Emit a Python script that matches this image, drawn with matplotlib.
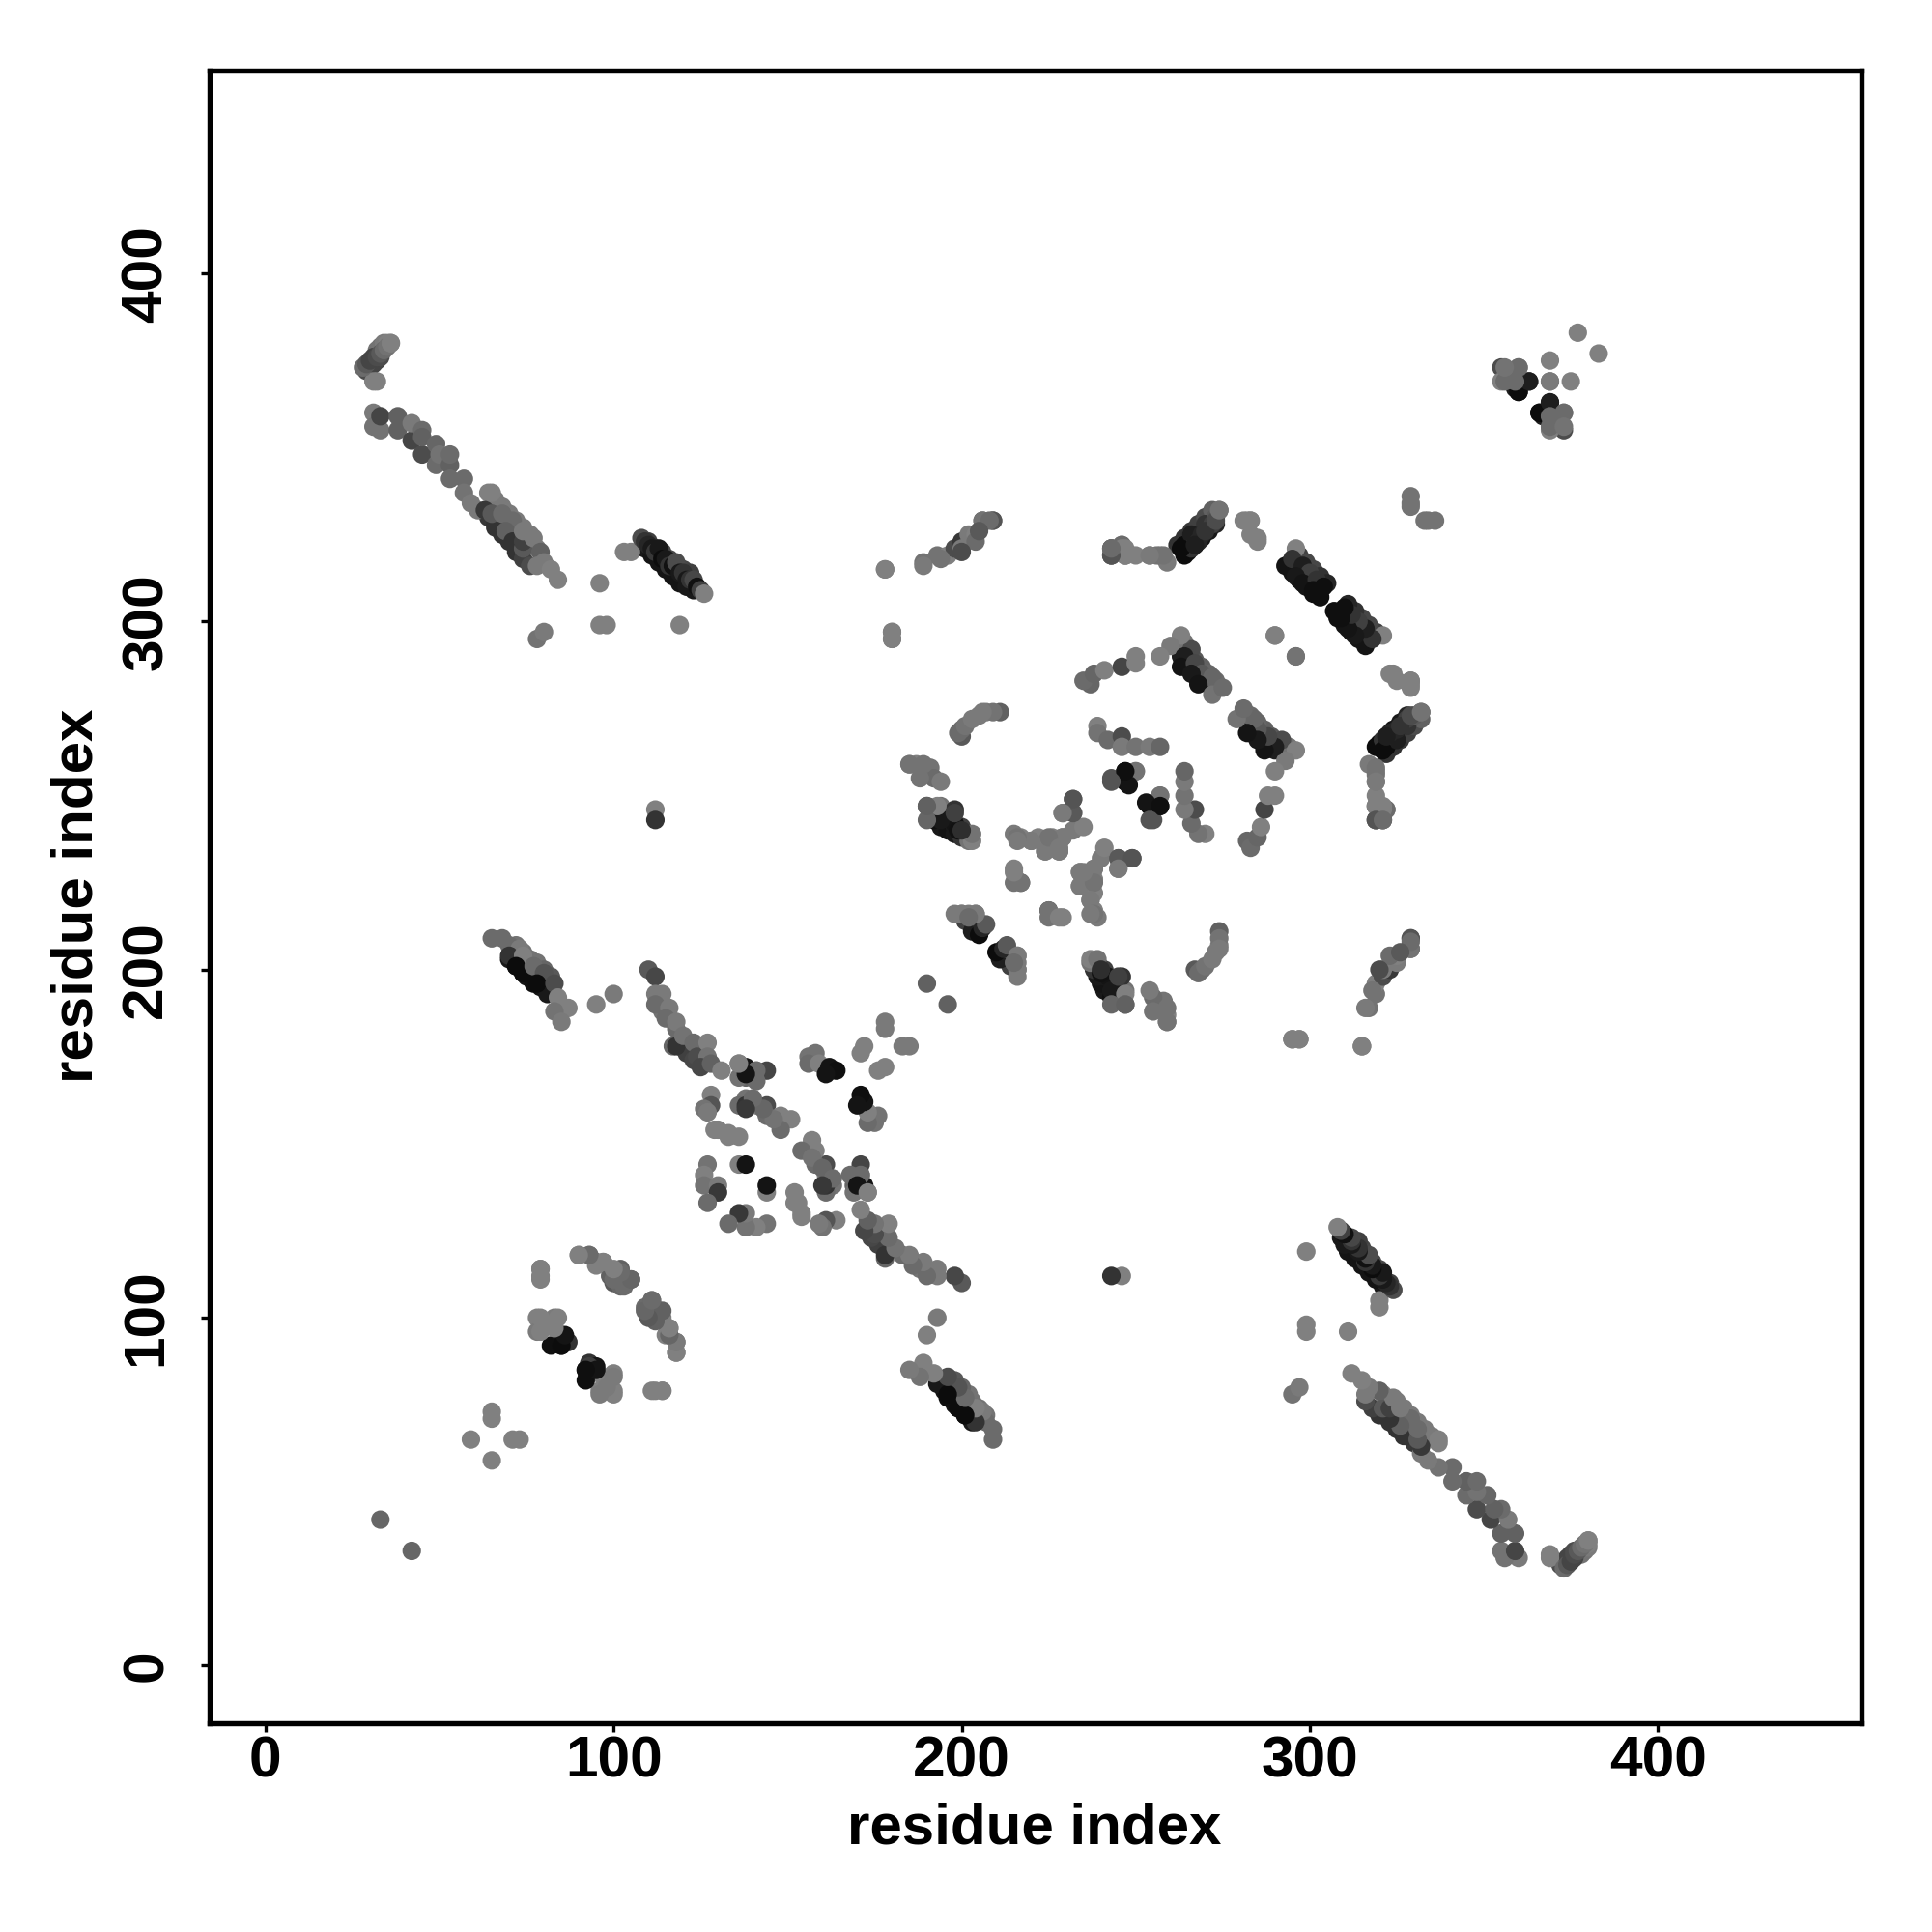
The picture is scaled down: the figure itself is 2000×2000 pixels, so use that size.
import matplotlib
matplotlib.use("Agg")
import matplotlib.pyplot as plt

plt.rcParams['font.family'] = ['Liberation Sans', 'DejaVu Sans']

tick_values = [0, 100, 200, 300, 400]
axis_label = "residue index"

# Contacts (i < j); the map is symmetric. Third list = gray level of the point.
ex_a_i = [29, 30, 31, 32, 33, 32, 33, 34, 35]
ex_a_j = [372, 373, 374, 375, 376, 378, 379, 380, 380]
ex_a_g = [.3, .3, .27, .27, .3, .45, .45, .48, .5]

ex_b_i = [64, 66, 68, 70, 72, 74, 76, 66, 68, 70, 72, 74, 76, 78]
ex_b_j = [330, 327, 325, 323, 320, 318, 316, 335, 333, 331, 329, 327, 325, 321]
ex_b_g = [.22, .2, .2, .2, .2, .25, .3, .48, .48, .48, .48, .48, .48, .48]

ex_d_i = [109, 111, 113, 115, 117, 119, 121, 123, 110, 112, 114, 116, 118, 120, 122]
ex_d_j = [321, 319, 317, 315, 313, 311, 310, 309, 323, 321, 320, 318, 316, 315, 314]
ex_d_g = [.1, .08, .08, .08, .08, .08, .1, .1, .25, .25, .28, .28, .3, .28, .25]

ex_f_i = [70, 72, 74, 75, 77, 79, 81, 72, 74, 76, 78, 80, 82]
ex_f_j = [203, 201, 199, 198, 196, 195, 193, 207, 205, 203, 202, 200, 198]
ex_f_g = [.1, .08, .08, .08, .06, .08, .1, .45, .45, .45, .45, .4, .35]

ex_q_i = [293, 295, 297, 299, 301, 303, 297, 299, 301, 303, 305]
ex_q_j = [316, 314, 312, 310, 308, 307, 319, 317, 315, 313, 311]
ex_q_g = [.08, .08, .08, .08, .06, .06, .25, .28, .28, .2, .15]

ex_p_i = [265, 267, 269, 271, 273, 262, 264, 266, 268, 270, 272]
ex_p_j = [320, 322, 324, 326, 328, 322, 324, 326, 328, 330, 332]
ex_p_g = [.06, .08, .08, .1, .15, .2, .2, .22, .25, .3, .38]

ex_s_i = [263, 265, 267, 269, 271, 265, 267, 269, 271, 273, 264, 266]
ex_s_j = [290, 288, 286, 284, 282, 291, 289, 287, 285, 283, 294, 292]
ex_s_g = [.12, .12, .12, .15, .15, .35, .35, .38, .4, .42, .45, .3]

ex_g_i = [114, 116, 118, 120, 122, 124, 119, 121, 123, 125]
ex_g_j = [188, 186, 183, 180, 178, 176, 178, 176, 174, 175]
ex_g_g = [.45, .45, .42, .4, .4, .35, .25, .25, .28, .4]

ex_v_i = [194, 196, 198, 200]
ex_v_j = [241, 240, 239, 238]
ex_v_g = [.1, .08, .1, .2]

a_i = [31, 32, 28, 29, 30, 31, 32, 33, 34, 35, 36, 36]
a_j = [369, 369, 373, 374, 375, 376, 376, 377, 378, 379, 380, 380]
a_g = [.5, .5, .42, .35, .27, .27, .3, .35, .42, .45, .5, .5]

b_i = [31, 31, 33, 33, 38, 38, 42, 42, 45, 45, 45, 49, 49, 50, 53, 53, 53, 57, 57, 59, 61, 64, 65,
       63, 66, 65, 68, 71, 69, 71, 74, 74, 74, 77, 79, 80, 78, 82, 84]
b_j = [360, 356, 355, 359, 355, 359, 352, 357, 348, 355, 353, 345, 351, 348, 345, 348, 341, 341, 337, 334, 332,
       337, 337, 332, 328, 331, 331, 329, 326, 323, 321, 323, 326, 324, 320, 317, 316, 315, 312]
b_g = [.48, .45, .45, .27, .38, .38, .27, .48, .3, .42, .38, .42, .4, .45, .38, .42, .42, .42, .45, .48, .48,
       .5, .5, .22, .2, .35, .42, .42, .38, .2, .35, .25, .48, .48, .38, .48, .48, .5, .5]

c_i = [78, 80, 96, 96, 98, 119, 103, 105]
c_j = [295, 297, 311, 299, 299, 299, 320, 320]
c_g = [.45, .48, .5, .5, .5, .5, .5, .5]

d_i = [108, 109, 110, 111, 112, 113, 114, 115, 116, 117, 118, 119, 120, 121, 122, 123, 124, 125, 126]
d_j = [324, 323, 322, 321, 320, 321, 318, 318, 316, 316, 317, 314, 314, 312, 312, 312, 310, 309, 308]
d_g = [.3, .2, .15, .1, .22, .1, .05, .1, .2, .07, .3, .1, .2, .1, .2, .28, .07, .25, .5]

e_i = [112, 112]
e_j = [246, 243]
e_g = [.5, .2]

f_i = [65, 68, 70, 73, 70, 74, 72, 74, 77, 80, 78, 83, 84, 87, 83, 85, 95, 100]
f_j = [209, 209, 207, 206, 204, 204, 201, 199, 201, 199, 196, 196, 192, 189, 188, 185, 190, 193]
f_g = [.42, .42, .42, .48, .2, .5, .05, .05, .42, .33, .05, .3, .5, .5, .45, .48, .5, .48]

g_i = [110, 112, 112, 114, 112, 116, 115, 118, 117, 118, 120, 123, 124, 127, 127, 125, 128, 131]
g_j = [200, 198, 193, 193, 190, 189, 186, 185, 178, 178, 181, 179, 175, 179, 175, 172, 173, 171]
g_g = [.35, .28, .48, .48, .42, .48, .42, .48, .4, .2, .45, .42, .3, .5, .45, .28, .38, .5]

h_i = [127, 126, 126, 130, 130, 127, 136, 138, 128, 128, 126, 127, 129, 133, 136, 133, 130]
h_j = [144, 141, 138, 138, 136, 133, 144, 144, 164, 161, 160, 159, 154, 153, 152, 152, 154]
h_g = [.45, .5, .45, .48, .22, .42, .5, .08, .5, .33, .45, .48, .5, .5, .5, .5, .5]

k_i = [136, 138, 141, 144, 138, 136, 138, 136, 138, 141, 144, 144, 148, 151, 148, 146, 143, 140, 138]
k_j = [173, 172, 171, 171, 169, 169, 163, 161, 161, 161, 161, 158, 158, 157, 154, 157, 160, 163, 160]
k_g = [.5, .08, .42, .27, .4, .45, .45, .42, .2, .5, .3, .42, .5, .5, .42, .45, .4, .42, .22]

m_i = [156, 158, 156, 159, 162, 164, 161, 141, 141, 138, 136, 190, 178, 178, 172, 171]
m_j = [175, 176, 173, 173, 172, 171, 170, 168, 171, 170, 173, 196, 185, 183, 178, 176]
m_g = [.45, .45, .42, .5, .08, .06, .08, .42, .42, .08, .5, .38, .48, .48, .5, .5]

n_i = [189, 193, 196, 198, 200, 200, 202, 204, 206, 209, 178, 180, 180]
n_j = [317, 319, 319, 321, 323, 321, 325, 325, 329, 329, 315, 297, 295]
n_g = [.45, .45, .5, .3, .22, .48, .48, .5, .35, .38, .48, .48, .48]

p_i = [243, 243, 246, 247, 254, 257, 259, 264, 264, 266, 268, 270, 272, 269, 266, 273, 274]
p_j = [321, 319, 322, 319, 319, 319, 317, 322, 319, 325, 323, 328, 328, 325, 321, 330, 332]
p_g = [.4, .3, .48, .5, .5, .45, .48, .05, .05, .12, .15, .2, .25, .15, .2, .35, .42]

q_i = [282, 283, 283, 285, 296, 295, 298, 300, 296, 298, 302, 301, 304]
q_j = [329, 329, 325, 323, 321, 318, 316, 314, 313, 311, 312, 309, 310]
q_g = [.5, .5, .5, .5, .5, .2, .12, .25, .1, .08, .2, .06, .06]

r_i = [290, 296, 329, 329, 333]
r_j = [296, 290, 336, 334, 329]
r_g = [.45, .5, .45, .45, .45]

s_i = [263, 260, 257, 264, 263, 267, 269, 266, 272, 268, 272, 275]
s_j = [296, 293, 290, 290, 287, 288, 285, 285, 284, 282, 279, 281]
s_g = [.5, .48, .5, .12, .08, .28, .35, .1, .4, .08, .45, .42]

t_i = [237, 235, 238, 241, 246, 250, 250, 239, 239, 242, 246, 246, 250, 254, 257]
t_j = [282, 283, 285, 286, 287, 290, 288, 270, 268, 266, 267, 264, 264, 264, 264]
t_g = [.4, .42, .4, .5, .27, .5, .5, .5, .45, .42, .3, .48, .45, .48, .4]

u_i = [247, 247, 250, 243, 250, 248, 247, 243]
u_j = [257, 254, 257, 255, 257, 253, 257, 254]
u_g = [.1, .04, .45, .33, .45, .08, .06, .33]

v_i = [185, 187, 189, 191, 192, 194, 190, 194, 192, 198, 196, 198, 200, 202, 202]
v_j = [259, 259, 258, 258, 255, 254, 247, 247, 243, 246, 243, 241, 241, 239, 237]
v_g = [.5, .5, .45, .45, .42, .48, .3, .45, .06, .2, .07, .1, .25, .3, .45]

w_i = [203, 203, 198, 199, 194, 193, 188, 189, 185, 190, 190, 198, 200]
w_j = [237, 239, 242, 240, 243, 247, 255, 259, 259, 243, 247, 245, 240]
w_g = [.5, .45, .08, .07, .1, .5, .45, .45, .45, .4, .38, .25, .18]

x_i = [200, 199, 200, 201, 203, 205, 207, 211, 209, 206]
x_j = [267, 268, 269, 270, 272, 273, 274, 274, 274, 274]
x_g = [.35, .42, .42, .45, .48, .48, .48, .38, .45, .48]

y_i = [215, 217, 220, 224, 224, 227, 228, 229, 229, 232, 232, 232, 235, 226, 222]
y_j = [239, 238, 237, 236, 234, 236, 234, 238, 245, 245, 249, 240, 241, 238, 238]
y_g = [.48, .5, .5, .48, .48, .5, .48, .45, .48, .38, .35, .48, .5, .5, .5]

z_i = [232, 232, 229, 229, 228, 224, 225, 220, 216, 216, 215, 217, 215, 217, 215, 228]
z_j = [245, 249, 245, 238, 234, 234, 238, 237, 238, 237, 229, 225, 225, 225, 228, 235]
z_g = [.35, .33, .48, .48, .48, .48, .45, .48, .45, .48, .5, .28, .45, .45, .5, .48]

aa_i = [200, 202, 204, 201, 203, 206, 205, 206, 207, 204, 198, 200, 202]
aa_j = [216, 216, 216, 214, 211, 213, 210, 212, 213, 216, 216, 216, 215]
aa_g = [.45, .48, .5, .25, .12, .38, .05, .15, .35, .48, .48, .48, .42]

ab_i = [243, 246, 247, 250, 243, 246, 246, 247, 256]
ab_j = [319, 321, 319, 319, 321, 320, 322, 321, 319]
ab_g = [.4, .45, .48, .5, .38, .48, .42, .5, .45]

ac_i = [285, 283, 281, 329, 258, 254, 247, 246, 243, 243, 263, 267, 270, 273, 274]
ac_j = [324, 329, 329, 209, 319, 319, 319, 321, 319, 321, 321, 322, 326, 329, 332]
ac_g = [.5, .5, .5, .33, .45, .48, .5, .5, .33, .42, .05, .12, .2, .3, .45]

ad_i = [329, 323, 320, 318, 316, 315, 295, 297, 329, 326]
ad_j = [206, 204, 200, 194, 189, 178, 180, 180, 208, 205]
ad_g = [.45, .42, .3, .45, .48, .5, .5, .5, .42, .35]

ae_i = [79, 79, 90, 93, 95, 97, 99, 102, 100, 102, 105, 109, 111, 113, 111, 114, 116, 115, 118, 118, 111, 114]
ae_j = [114, 112, 118, 118, 116, 116, 112, 114, 110, 109, 111, 103, 105, 102, 100, 100, 97, 95, 93, 90, 79, 79]
ae_g = [.5, .5, .5, .48, .4, .5, .38, .38, .35, .4, .42, .42, .4, .42, .42, .5, .5, .5, .42, .5, .5, .5]

af_i = [78, 83, 78, 80, 82, 86, 85, 85, 93, 92, 95, 97, 100, 96, 100, 98]
af_j = [100, 100, 96, 98, 92, 93, 95, 92, 87, 85, 86, 83, 84, 79, 79, 81]
af_g = [.5, .48, .48, .48, .06, .25, .08, .06, .2, .05, .08, .5, .5, .5, .5, .5]

ag_i = [65, 65, 59, 33]
ag_j = [73, 71, 65, 42]
ag_g = [.5, .5, .5, .4]

ah_i = [355, 360, 355, 359, 363, 360, 369, 369, 377, 360, 363, 359, 360, 356, 356]
ah_j = [373, 373, 369, 367, 369, 366, 375, 369, 383, 366, 369, 369, 373, 369, 373]
ah_g = [.3, .48, .5, .12, .25, .05, .5, .48, .5, .05, .12, .42, .42, .42, .45]

regions = [(ex_a_i, ex_a_j, ex_a_g), (ex_b_i, ex_b_j, ex_b_g), (ex_d_i, ex_d_j, ex_d_g), (ex_f_i, ex_f_j, ex_f_g),
           (ex_q_i, ex_q_j, ex_q_g), (ex_p_i, ex_p_j, ex_p_g), (ex_s_i, ex_s_j, ex_s_g), (ex_g_i, ex_g_j, ex_g_g),
           (ex_v_i, ex_v_j, ex_v_g),
           (a_i, a_j, a_g), (b_i, b_j, b_g), (c_i, c_j, c_g), (d_i, d_j, d_g), (e_i, e_j, e_g),
           (f_i, f_j, f_g), (g_i, g_j, g_g), (h_i, h_j, h_g), (k_i, k_j, k_g), (m_i, m_j, m_g),
           (n_i, n_j, n_g), (p_i, p_j, p_g), (q_i, q_j, q_g), (r_i, r_j, r_g), (s_i, s_j, s_g),
           (t_i, t_j, t_g), (u_i, u_j, u_g), (v_i, v_j, v_g), (w_i, w_j, w_g), (x_i, x_j, x_g),
           (y_i, y_j, y_g), (z_i, z_j, z_g), (aa_i, aa_j, aa_g), (ab_i, ab_j, ab_g), (ac_i, ac_j, ac_g),
           (ad_i, ad_j, ad_g), (ae_i, ae_j, ae_g), (af_i, af_j, af_g), (ag_i, ag_j, ag_g), (ah_i, ah_j, ah_g)]

fig = plt.figure(figsize=(20, 20), dpi=100)
ax = fig.add_axes([216.5 / 2000, 1 - 1783.5 / 2000, (1927 - 216.5) / 2000, (1783.5 - 72.7) / 2000])

for ri, rj, rg in regions:
    ax.scatter(ri + rj, rj + ri, c=rg + rg, cmap='gray', vmin=0, vmax=1,
               s=190, linewidths=0, zorder=3)

ax.set_xlim(-16.2, 458.5)
ax.set_ylim(-16.4, 458.4)
ax.set_xticks(tick_values)
ax.set_yticks(tick_values)
ax.tick_params(axis='x', length=6.5, width=2.4, direction='out', labelsize=43.5, pad=3)
ax.tick_params(axis='y', length=6.5, width=2.4, direction='out', labelsize=43.5, pad=20)
for lb in ax.get_xticklabels():
    lb.set_fontweight('bold')
for lb in ax.get_yticklabels():
    lb.set_fontweight('bold')
    lb.set_rotation(90)
    lb.set_va('center')
for sp in ax.spines.values():
    sp.set_linewidth(3.9)

fig.text(1071 / 2000, 1 - 1893 / 2000, axis_label, ha='center', va='center', fontsize=43.2, fontweight='bold')
fig.text(80 / 2000, 1 - 927 / 2000, axis_label, ha='center', va='center', rotation=90, fontsize=43.2, fontweight='bold')

fig.savefig('out.png', dpi=100)
